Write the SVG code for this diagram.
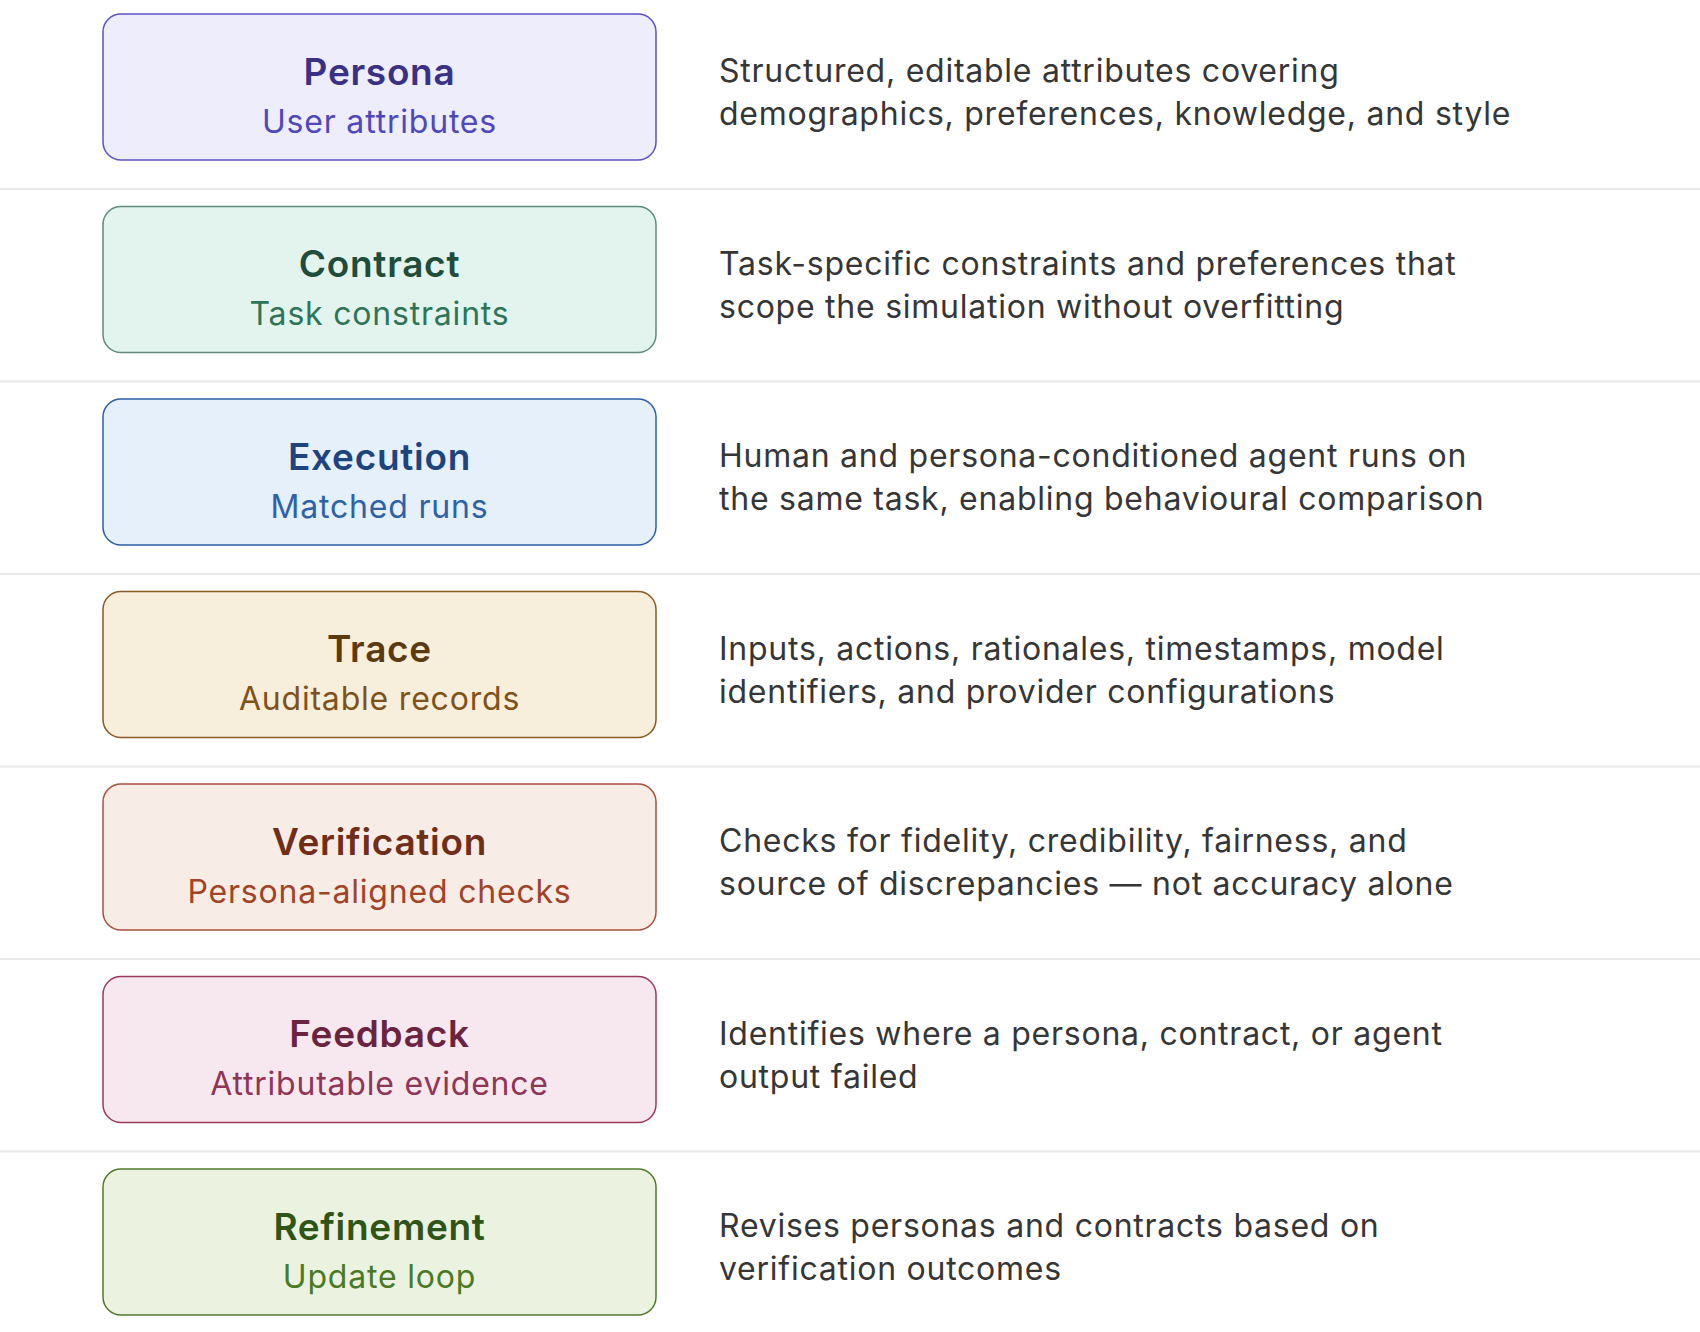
<svg xmlns="http://www.w3.org/2000/svg" width="1700" height="1332" viewBox="0 0 1700 1332">
<style>
.box{stroke-width:1.5}
.t{font-family:Inter,"Noto Sans",sans-serif;font-size:37px;font-weight:600;letter-spacing:0.7px;text-anchor:middle}
.s{font-family:Inter,"Noto Sans",sans-serif;font-size:32px;font-weight:400;letter-spacing:0.8px;text-anchor:middle}
.d{font-family:Inter,"Noto Sans",sans-serif;font-size:32px;letter-spacing:0.75px;fill:#363636}
.sep{stroke:#e8e8e8;stroke-width:2}
</style>
<rect width="1700" height="1332" fill="#ffffff"/>
<g id="separators">
<line class="sep" x1="0" y1="189" x2="1700" y2="189"/>
<line class="sep" x1="0" y1="381.5" x2="1700" y2="381.5"/>
<line class="sep" x1="0" y1="574" x2="1700" y2="574"/>
<line class="sep" x1="0" y1="766.5" x2="1700" y2="766.5"/>
<line class="sep" x1="0" y1="959" x2="1700" y2="959"/>
<line class="sep" x1="0" y1="1151.5" x2="1700" y2="1151.5"/>
</g>
<g id="connectors"></g>
<g id="persona">
<rect class="box" x="103" y="14" width="553" height="146" rx="18" fill="#ededfc" stroke="#5b52c4"/>
<text class="t" x="379.5" y="84.5" fill="#3a3185">Persona</text>
<text class="s" x="379.5" y="132.5" fill="#5048b8">User attributes</text>
<text class="d" x="719" y="82">Structured, editable attributes covering</text>
<text class="d" x="719" y="125">demographics, preferences, knowledge, and style</text>
</g>
<g id="contract">
<rect class="box" x="103" y="206.5" width="553" height="146" rx="18" fill="#e3f4ee" stroke="#5e8c78"/>
<text class="t" x="379.5" y="277" fill="#1f4d3a">Contract</text>
<text class="s" x="379.5" y="325" fill="#2e7558">Task constraints</text>
<text class="d" x="719" y="274.5">Task-specific constraints and preferences that</text>
<text class="d" x="719" y="317.5">scope the simulation without overfitting</text>
</g>
<g id="execution">
<rect class="box" x="103" y="399" width="553" height="146" rx="18" fill="#e6f0fb" stroke="#2e5fa8"/>
<text class="t" x="379.5" y="469.5" fill="#1e4480">Execution</text>
<text class="s" x="379.5" y="517.5" fill="#2d62a8">Matched runs</text>
<text class="d" x="719" y="467">Human and persona-conditioned agent runs on</text>
<text class="d" x="719" y="510">the same task, enabling behavioural comparison</text>
</g>
<g id="trace">
<rect class="box" x="103" y="591.5" width="553" height="146" rx="18" fill="#f8eedc" stroke="#8a5a22"/>
<text class="t" x="379.5" y="662" fill="#5c3a10">Trace</text>
<text class="s" x="379.5" y="710" fill="#7e5219">Auditable records</text>
<text class="d" x="719" y="659.5">Inputs, actions, rationales, timestamps, model</text>
<text class="d" x="719" y="702.5">identifiers, and provider configurations</text>
</g>
<g id="verification">
<rect class="box" x="103" y="784" width="553" height="146" rx="18" fill="#f8ece6" stroke="#a8503a"/>
<text class="t" x="379.5" y="854.5" fill="#6e2e17">Verification</text>
<text class="s" x="379.5" y="902.5" fill="#a04326">Persona-aligned checks</text>
<text class="d" x="719" y="852">Checks for fidelity, credibility, fairness, and</text>
<text class="d" x="719" y="895">source of discrepancies — not accuracy alone</text>
</g>
<g id="feedback">
<rect class="box" x="103" y="976.5" width="553" height="146" rx="18" fill="#f6e8ee" stroke="#9c3a5e"/>
<text class="t" x="379.5" y="1047" fill="#6b2440">Feedback</text>
<text class="s" x="379.5" y="1095" fill="#8f3556">Attributable evidence</text>
<text class="d" x="719" y="1044.5">Identifies where a persona, contract, or agent</text>
<text class="d" x="719" y="1087.5">output failed</text>
</g>
<g id="refinement">
<rect class="box" x="103" y="1169" width="553" height="146" rx="18" fill="#ebf2e0" stroke="#4f7a2a"/>
<text class="t" x="379.5" y="1239.5" fill="#2f5418">Refinement</text>
<text class="s" x="379.5" y="1287.5" fill="#4a7a25">Update loop</text>
<text class="d" x="719" y="1237">Revises personas and contracts based on</text>
<text class="d" x="719" y="1280">verification outcomes</text>
</g>
</svg>
